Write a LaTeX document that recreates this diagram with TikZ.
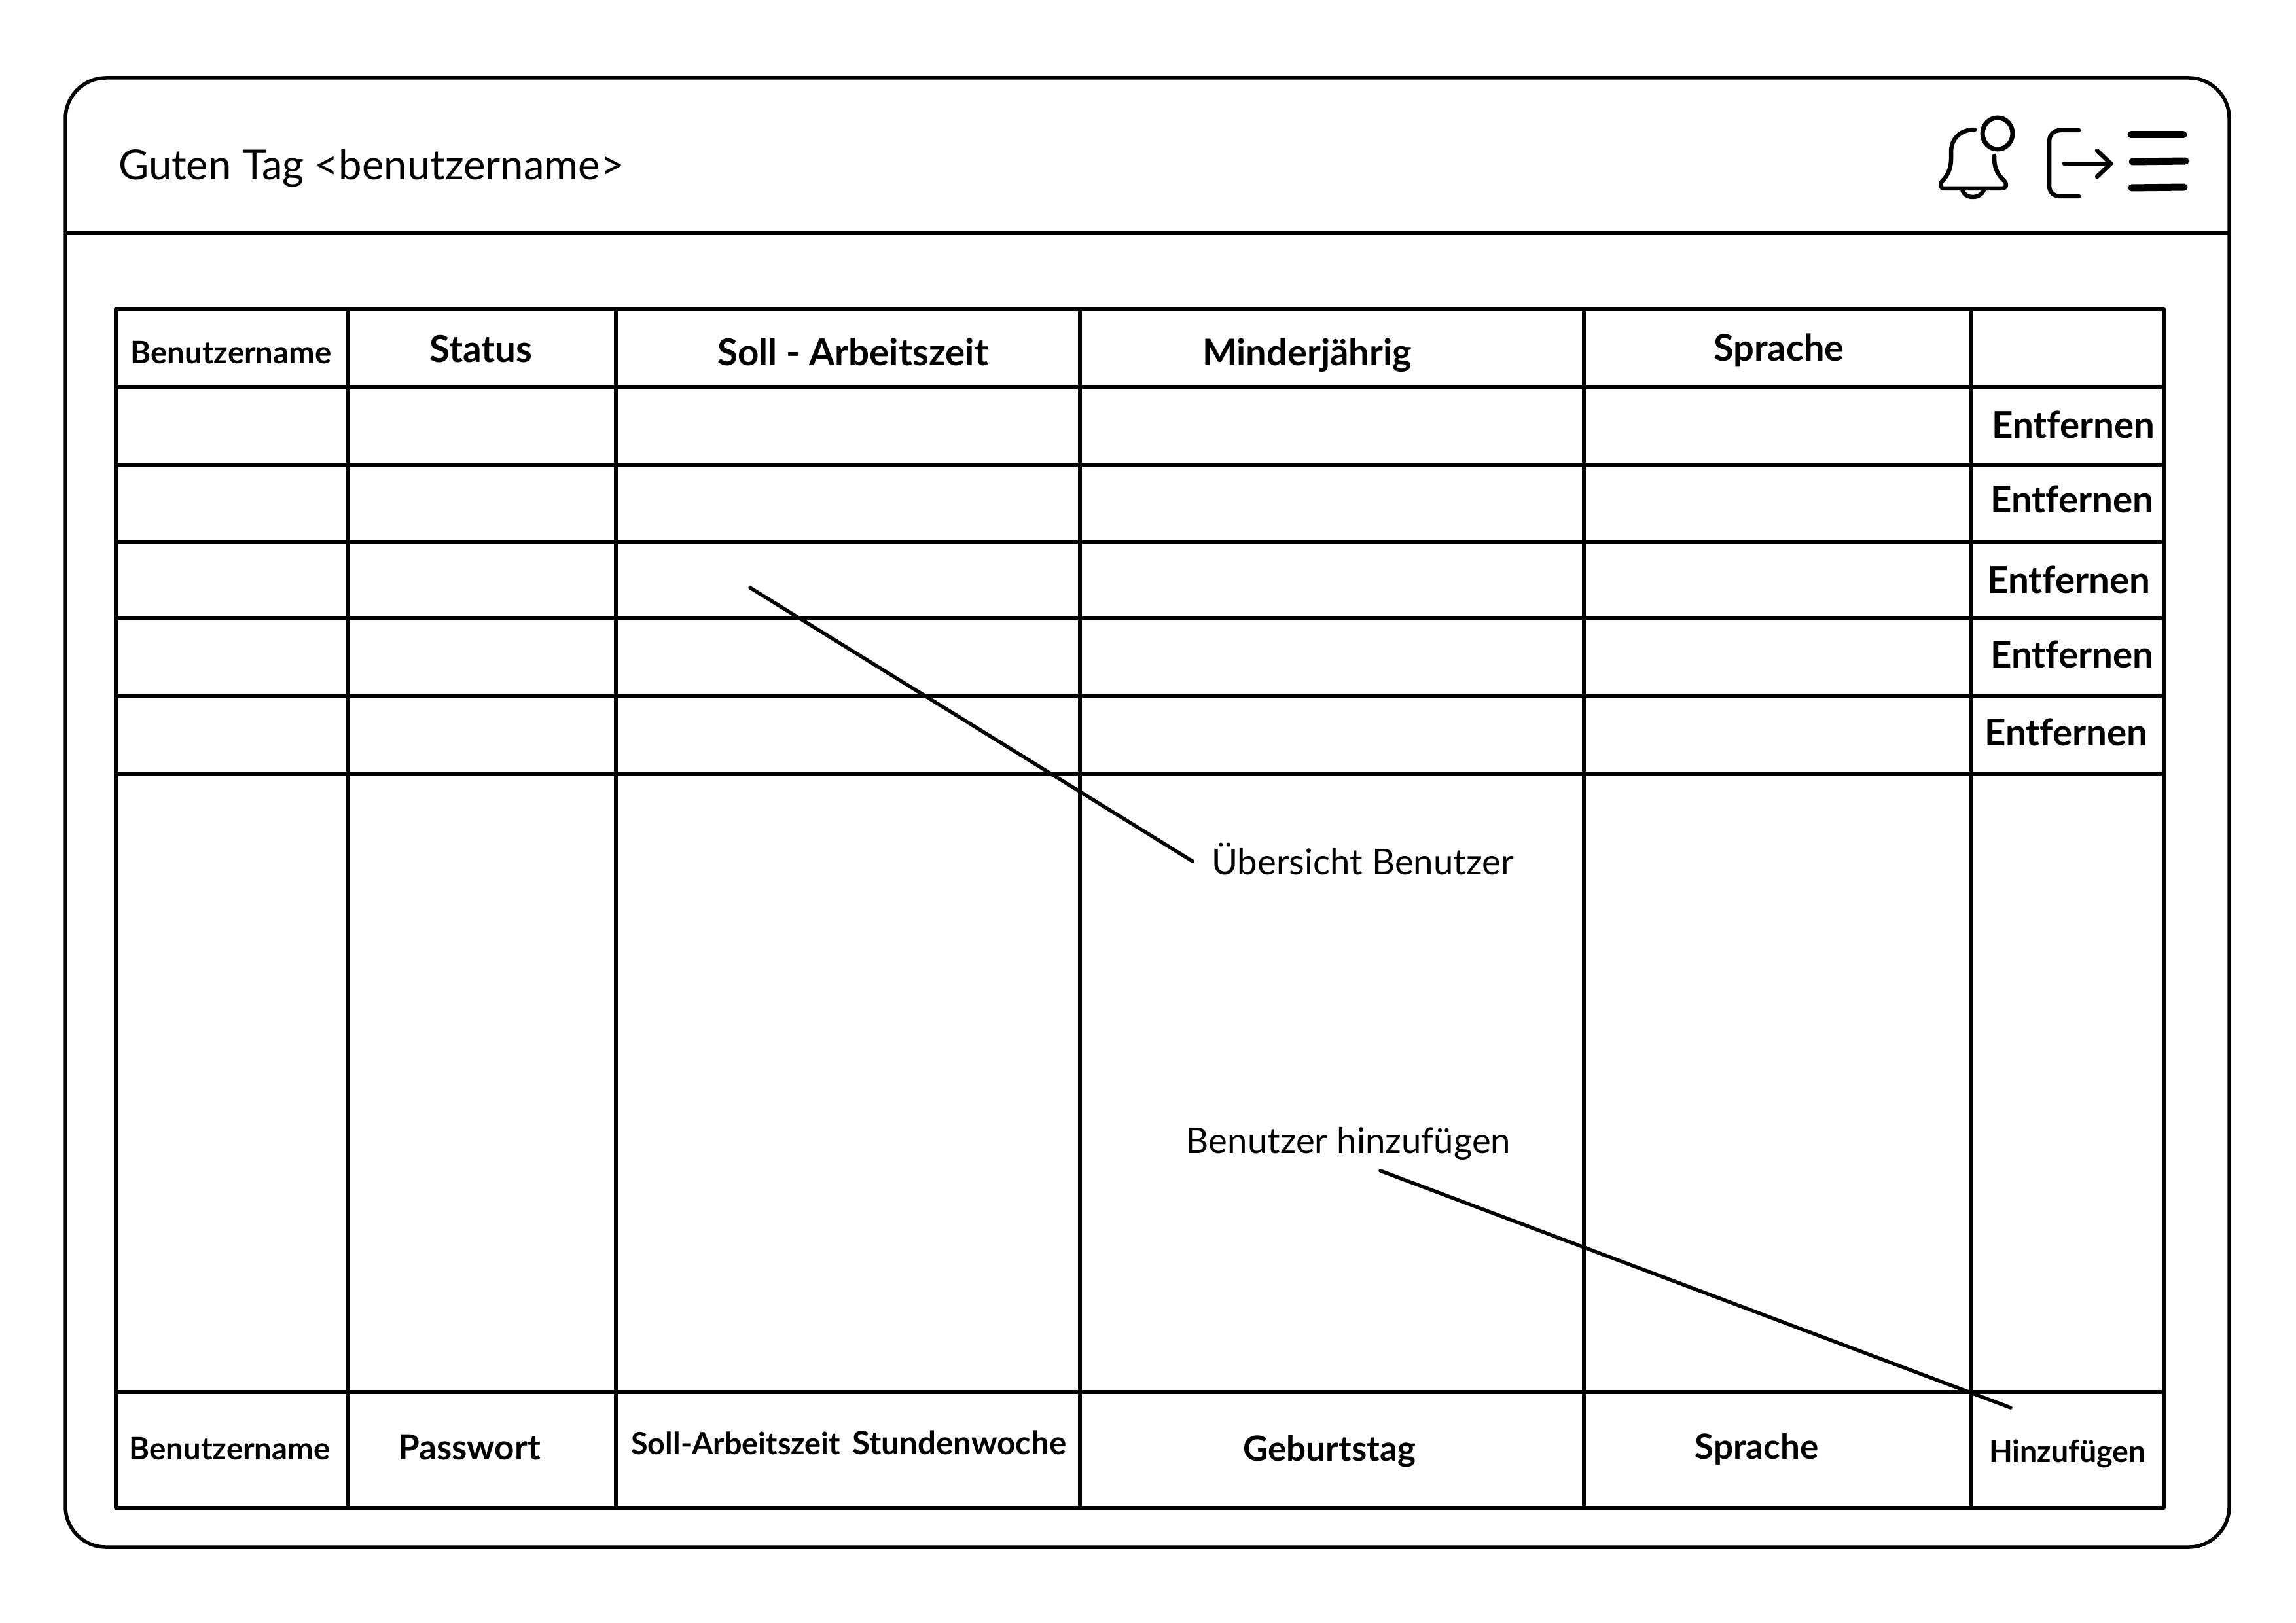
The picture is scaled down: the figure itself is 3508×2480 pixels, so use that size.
\documentclass[tikz,border=0pt]{standalone}
\usepackage{fontspec}
\setmainfont{Lato}[Ligatures=NoCommon]
\newcommand{\fs}[1]{\fontsize{#1}{#1}\selectfont}
\tikzset{
  x=1pt,y=-1pt,
  frame/.style={line width=5.5pt,line join=round},
  leader/.style={line width=5.5pt,line cap=round},
  ico/.style={line width=6.5pt,line cap=round,line join=round},
  burger/.style={line width=11pt,line cap=round},
  lbl/.style={inner sep=0pt,anchor=base},
  plain/.style={lbl,font=\fs{54.5}},
  hdr/.style={lbl,font=\fs{56.5}\bfseries},
  sm/.style={lbl,font=\fs{47.3}\bfseries},
  rowbtn/.style={lbl,font=\fs{56.5}\bfseries},
  foot/.style={lbl,font=\fs{53}\bfseries},
}
\begin{document}
\begin{tikzpicture}
\useasboundingbox (0,0) rectangle (3508,2480);
\fill[white] (0,0) rectangle (3508,2480);
% window
\draw[frame,rounded corners=62pt] (100,119) rectangle (3406,2364);
\draw[frame] (100,356) -- (3406,356);
% table
\draw[frame] (177,472) rectangle (3306,2304);
\foreach \yy in {591,710,828,945,1063,1182,2127}
  \draw[frame] (177,\yy) -- (3306,\yy);
\foreach \xx in {532,941,1650,2420,3012}
  \draw[frame] (\xx,472) -- (\xx,2304);
% leaders
\coordinate (a1) at (1146,898);
\coordinate (a2) at (1822,1316);
\coordinate (b1) at (2109,1789);
\coordinate (b2) at (3072,2151);
\draw[leader] (a1) -- (a2);
\draw[leader] (b1) -- (b2);
% title
\node[lbl,anchor=base west,font=\fs{63.4}] (title) at (181,275) {Guten Tag <benutzername>};
% head
\node[sm] (h1) at (353,555) {Benutzername};
\node[hdr] (h2) at (735,553) {Status};
\node[hdr] (h3) at (1303,558) {Soll - Arbeitszeit};
\node[hdr,font=\fs{56}\bfseries] (h4) at (1997,558) {Minderjährig};
\node[hdr,font=\fs{56}\bfseries] (h5) at (2718,551) {Sprache};
% buttons
\node[rowbtn] (e1) at (3168,669) {Entfernen};
\node[rowbtn] (e2) at (3166,783) {Entfernen};
\node[rowbtn] (e3) at (3161,906) {Entfernen};
\node[rowbtn] (e4) at (3166,1020) {Entfernen};
\node[rowbtn] (e5) at (3157,1139) {Entfernen};
% notes
\node[plain] (n1) at (2082,1336) {Übersicht Benutzer};
\node[plain] (n2) at (2060,1762) {Benutzer hinzufügen};
% footer
\node[sm] (f1) at (351,2230) {Benutzername};
\node[foot] (f2) at (717,2230) {Passwort};
\node[sm,font=\fs{46.7}\bfseries] (f3) at (1124,2222) {Soll-Arbeitszeit};
\node[sm,font=\fs{49.3}\bfseries] (f4) at (1466,2222) {Stundenwoche};
\node[foot] (f5) at (2031,2232) {Geburtstag};
\node[foot] (f6) at (2684,2229) {Sprache};
\node[sm,font=\fs{46.6}\bfseries] (f7) at (3159,2234) {Hinzufügen};
% bell
\draw[ico] (3017,198) .. controls (2995,198) and (2981,212) .. (2981,232)
  -- (2981,243) .. controls (2981,258) and (2975,269) .. (2968,276)
  .. controls (2963,281) and (2964,288) .. (2971,288)
  -- (3058,288) .. controls (3066,288) and (3067,281) .. (3062,276)
  .. controls (3054,269) and (3047,258) .. (3047,243) -- (3047,238);
\draw[ico] (2998,290) .. controls (3000,297) and (3006,301) .. (3014,301)
  .. controls (3022,301) and (3029,297) .. (3031,290);
\draw[line width=7pt] (3052,204) ellipse [x radius=23,y radius=24];
% logout
\draw[ico] (3176,199) -- (3148,199) .. controls (3138,199) and (3131,206) .. (3131,216)
  -- (3131,284) .. controls (3131,294) and (3138,300) .. (3148,300) -- (3176,300);
\draw[ico] (3154,250) -- (3225,250);
\draw[ico] (3204,230) -- (3225,250) -- (3204,270);
% menu
\draw[burger] (3256,206) -- (3336,206);
\draw[burger] (3258,247) -- (3339,246);
\draw[burger] (3257,287) -- (3337,286);
\end{tikzpicture}
\end{document}
